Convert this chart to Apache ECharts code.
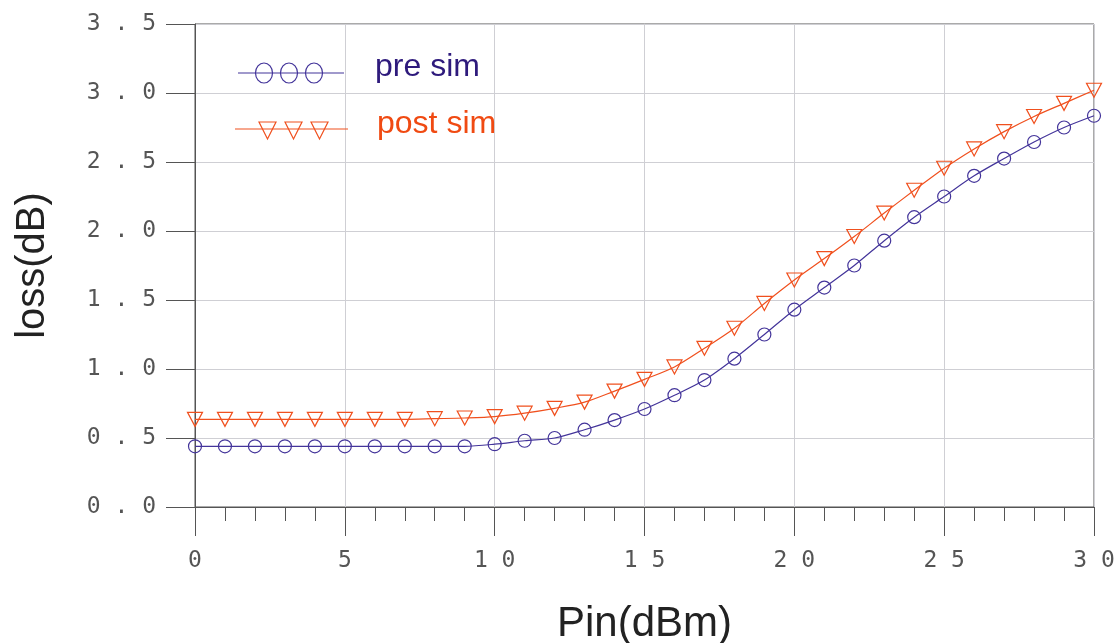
<!DOCTYPE html>
<html>
<head>
<meta charset="utf-8">
<script src="https://cdn.jsdelivr.net/npm/echarts@6/dist/echarts.min.js"></script>
<style>html,body{margin:0;padding:0;background:#fff;}#c{width:1120px;height:643px;}</style>
</head>
<body>
<div id="c"></div>
<script>
const pinDbm = [0,1,2,3,4,5,6,7,8,9,10,11,12,13,14,15,16,17,18,19,20,21,22,23,24,25,26,27,28,29,30];
const preSim = [0.44,0.44,0.44,0.44,0.44,0.44,0.44,0.44,0.44,0.44,0.455,0.48,0.50,0.56,0.63,0.71,0.81,0.92,1.075,1.25,1.43,1.59,1.75,1.93,2.10,2.25,2.40,2.525,2.645,2.75,2.835];
const postSim = [0.635,0.635,0.635,0.635,0.635,0.635,0.635,0.635,0.64,0.645,0.655,0.68,0.715,0.76,0.84,0.925,1.015,1.15,1.295,1.475,1.645,1.80,1.96,2.13,2.295,2.455,2.595,2.72,2.83,2.925,3.02];
const xTicks = [0,5,10,15,20,25,30];
const yTicks = [0,0.5,1.0,1.5,2.0,2.5,3.0,3.5];
const preColor = '#43349a', postColor = '#f0501e';
const tickFont = {fontFamily:'DejaVu Sans Mono', fontSize:23, color:'#555'};

const chart = echarts.init(document.getElementById('c'));
chart.setOption({
  animation:false,
  backgroundColor:'#fff',
  grid:{left:195, right:26, top:24, bottom:136, containLabel:false, outerBoundsMode:'none',
        show:true, borderColor:'#555', borderWidth:1, backgroundColor:'transparent'},
  xAxis:{
    type:'value', min:xTicks[0], max:xTicks[xTicks.length-1], interval:5,
    name:'Pin(dBm)', nameLocation:'middle', nameGap:96,
    nameTextStyle:{fontFamily:'Liberation Sans', fontSize:42, color:'#222'},
    axisLine:{show:true, lineStyle:{color:'#555', width:1}},
    axisTick:{show:true, length:29, inside:false, lineStyle:{color:'#555'}},
    minorTick:{show:true, splitNumber:5, length:14, lineStyle:{color:'#555'}},
    splitLine:{show:true, lineStyle:{color:'#cfcfd4', width:1}},
    axisLabel:Object.assign({margin:43, formatter:v=>String(v).split('').join(' ')}, tickFont)
  },
  yAxis:{
    type:'value', min:yTicks[0], max:yTicks[yTicks.length-1], interval:0.5,
    name:'loss(dB)', nameLocation:'middle', nameGap:142, nameRotate:90,
    nameTextStyle:{fontFamily:'Liberation Sans', fontSize:40, color:'#222'},
    axisLine:{show:true, lineStyle:{color:'#555', width:1}},
    axisTick:{show:true, length:29, inside:false, lineStyle:{color:'#555'}},
    splitLine:{show:true, lineStyle:{color:'#cfcfd4', width:1}},
    axisLabel:Object.assign({margin:39, formatter:v=>v.toFixed(1).split('').join(' ')}, tickFont)
  },
  series:[
    {
      name:'pre sim', type:'line', smooth:0.3,
      data:pinDbm.map((x,i)=>[x,preSim[i]]),
      symbol:'circle', symbolSize:13, showAllSymbol:true,
      lineStyle:{color:preColor, width:1.2},
      itemStyle:{color:'rgba(0,0,0,0)', borderColor:preColor, borderWidth:1.2},
      z:3
    },
    {
      name:'post sim', type:'line', smooth:0.3,
      data:pinDbm.map((x,i)=>[x,postSim[i]]),
      symbol:'path://M0,0 L10,0 L5,9.5 Z', symbolSize:[15,14], showAllSymbol:true,
      lineStyle:{color:postColor, width:1.2},
      itemStyle:{color:'rgba(0,0,0,0)', borderColor:postColor, borderWidth:1.2},
      z:4
    }
  ],
  graphic:[
    {type:'line', shape:{x1:238,y1:73,x2:344,y2:73}, style:{stroke:preColor, lineWidth:1.2}, z:10},
    {type:'ellipse', shape:{cx:264,cy:73,rx:8.5,ry:10}, style:{stroke:preColor, fill:'rgba(0,0,0,0)', lineWidth:1.2}, z:10},
    {type:'ellipse', shape:{cx:289,cy:73,rx:8.5,ry:10}, style:{stroke:preColor, fill:'rgba(0,0,0,0)', lineWidth:1.2}, z:10},
    {type:'ellipse', shape:{cx:314,cy:73,rx:8.5,ry:10}, style:{stroke:preColor, fill:'rgba(0,0,0,0)', lineWidth:1.2}, z:10},
    {type:'text', left:375, top:51, style:{text:'pre sim', fontFamily:'Liberation Sans', fontSize:32, fill:'#2e1a7c'}, z:10},
    {type:'line', shape:{x1:235,y1:129,x2:348,y2:129}, style:{stroke:postColor, lineWidth:1.2}, z:10},
    {type:'polygon', shape:{points:[[259,122],[276,122],[267.5,139]]}, style:{stroke:postColor, fill:'rgba(0,0,0,0)', lineWidth:1.2}, z:10},
    {type:'polygon', shape:{points:[[285,122],[302,122],[293.5,139]]}, style:{stroke:postColor, fill:'rgba(0,0,0,0)', lineWidth:1.2}, z:10},
    {type:'polygon', shape:{points:[[311,122],[328,122],[319.5,139]]}, style:{stroke:postColor, fill:'rgba(0,0,0,0)', lineWidth:1.2}, z:10},
    {type:'text', left:377, top:108, style:{text:'post sim', fontFamily:'Liberation Sans', fontSize:32, fill:'#f04a12'}, z:10}
  ]
});
</script>
</body>
</html>
